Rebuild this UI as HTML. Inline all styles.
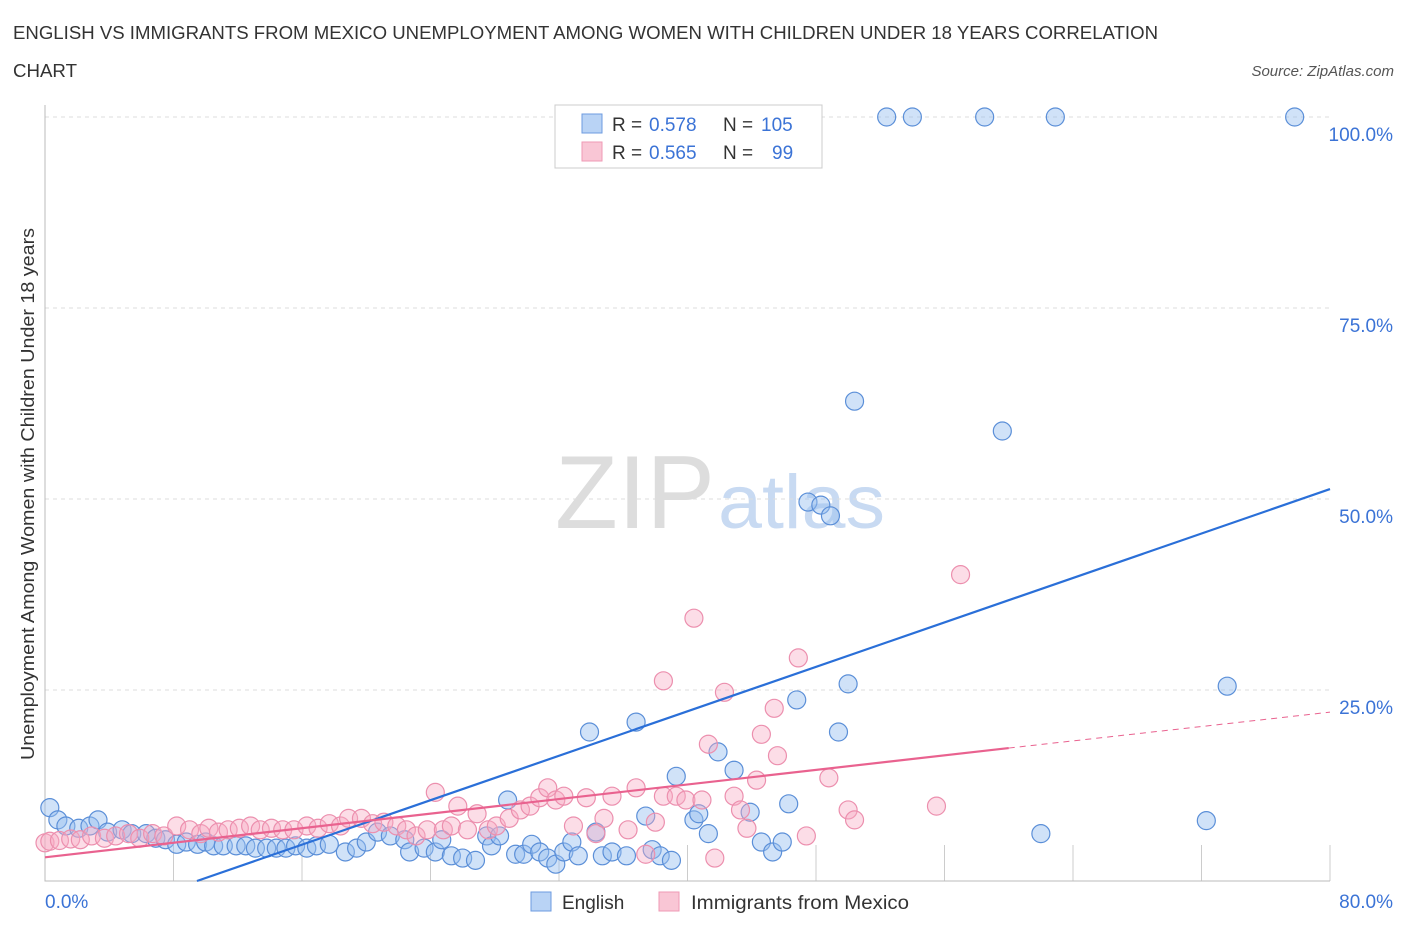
<!DOCTYPE html>
<html><head><meta charset="utf-8"><style>
body{margin:0;background:#fff;font-family:"Liberation Sans",sans-serif}
svg text{font-family:"Liberation Sans",sans-serif}
</style></head><body>
<svg width="1406" height="930">
<text x="13" y="39" font-size="18" fill="#333" textLength="1145" lengthAdjust="spacingAndGlyphs">ENGLISH VS IMMIGRANTS FROM MEXICO UNEMPLOYMENT AMONG WOMEN WITH CHILDREN UNDER 18 YEARS CORRELATION</text>
<text x="13" y="77" font-size="18" fill="#333" textLength="64" lengthAdjust="spacingAndGlyphs">CHART</text>
<text x="1394" y="76" font-size="15" fill="#555" font-style="italic" text-anchor="end">Source: ZipAtlas.com</text>
<text x="555" y="528" font-size="104" fill="#ddd" font-family="Liberation Serif" textLength="160" lengthAdjust="spacingAndGlyphs">ZIP</text>
<text x="718" y="528" font-size="76" fill="#c8daf2" textLength="167" lengthAdjust="spacingAndGlyphs">atlas</text>
<g id="grid"></g>
<g id="pts"></g>
<g id="lines"></g>
<text transform="translate(34,494) rotate(-90)" font-size="18" fill="#333" text-anchor="middle" textLength="532" lengthAdjust="spacingAndGlyphs">Unemployment Among Women with Children Under 18 years</text>
<text x="45" y="908" font-size="19" fill="#3b73d6">0.0%</text>
<text x="1393" y="908" font-size="19" fill="#3b73d6" text-anchor="end">80.0%</text>
<g>
<rect x="555" y="105" width="267" height="63" fill="#fff" stroke="#ccc"/>
<rect x="582" y="114" width="20" height="19" fill="#b9d3f5" stroke="#6d9be0"/>
<rect x="582" y="142" width="20" height="19" fill="#f9c6d5" stroke="#ef9ab5"/>
<text x="612" y="131" font-size="19" fill="#333">R =</text><text x="649" y="131" font-size="19" fill="#3b73d6">0.578</text>
<text x="723" y="131" font-size="19" fill="#333">N =</text><text x="761" y="131" font-size="19" fill="#3b73d6">105</text>
<text x="612" y="159" font-size="19" fill="#333">R =</text><text x="649" y="159" font-size="19" fill="#3b73d6">0.565</text>
<text x="723" y="159" font-size="19" fill="#333">N =</text><text x="772" y="159" font-size="19" fill="#3b73d6">99</text>
</g>
<g><rect x="531" y="892" width="20" height="19" fill="#b9d3f5" stroke="#6d9be0"/><text x="562" y="909" font-size="19" fill="#333">English</text></g>
<g><rect x="659" y="892" width="20" height="19" fill="#f9c6d5" stroke="#ef9ab5"/><text x="691" y="909" font-size="19" fill="#333" textLength="218" lengthAdjust="spacingAndGlyphs">Immigrants from Mexico</text></g>
</svg>
<script>
const yTicks=[100,75,50,25];
const yTickLabels=["100.0%","75.0%","50.0%","25.0%"];
const xTicks=[8,16,24,32,40,48,56,64,72,80];
const blueX=[0.3,0.8,1.3,2.1,2.8,3.3,3.9,4.8,5.4,6.3,6.9,7.5,8.2,8.8,9.5,10.0,10.5,11.1,11.9,12.5,13.1,13.8,14.4,15.0,15.6,16.3,16.9,17.7,18.7,19.4,20.0,20.7,21.5,22.4,22.7,23.6,24.3,24.7,25.3,26.0,26.8,27.5,27.8,28.3,28.8,29.3,29.8,30.3,30.8,31.3,31.8,32.3,32.8,33.2,33.9,34.3,34.7,35.3,36.2,36.8,37.4,37.8,38.3,39.0,39.3,40.4,40.7,41.3,41.9,42.9,43.9,44.6,45.3,45.9,46.3,46.8,47.5,48.3,48.9,49.4,50.0,50.4,52.4,54.0,58.5,59.6,62.0,62.9,72.3,73.6,77.8];
const blueY=[9.6,8.0,7.2,6.9,7.2,8.0,6.4,6.7,6.2,6.2,5.6,5.4,4.8,5.1,4.8,5.1,4.6,4.6,4.6,4.6,4.3,4.3,4.3,4.3,4.6,4.3,4.6,4.8,3.8,4.3,5.1,6.4,5.9,5.4,3.8,4.3,3.8,5.4,3.3,3.0,2.7,5.9,4.6,5.9,10.6,3.5,3.5,4.8,3.8,3.0,2.2,3.8,5.1,3.3,19.5,6.4,3.3,3.8,3.3,20.8,8.5,4.1,3.3,2.7,13.7,8.0,8.8,6.2,16.9,14.5,9.0,5.1,3.8,5.1,10.1,23.7,49.6,49.2,47.8,19.5,25.8,62.8,100,100,100,58.9,6.2,100,7.9,25.5,100];
const pinkX=[0,0.3,0.9,1.6,2.2,2.9,3.7,4.4,5.2,5.9,6.7,7.4,8.2,9.0,9.7,10.2,10.8,11.4,12.1,12.8,13.4,14.1,14.8,15.5,16.3,17.0,17.7,18.4,18.9,19.7,20.4,21.1,21.9,22.5,23.1,23.8,24.3,24.8,25.3,25.7,26.3,26.9,27.6,28.1,28.9,29.6,30.2,30.8,31.3,31.8,32.3,32.9,33.7,34.3,34.8,35.3,36.3,36.8,37.4,38.0,38.5,39.3,39.9,40.4,38.5,40.9,41.3,41.7,42.3,42.9,43.3,43.7,44.3,44.6,45.4,45.6,46.9,47.4,48.8,50.0,50.4,55.5,57.0];
const pinkY=[5.0,5.2,5.3,5.5,5.4,5.9,5.6,5.9,6.2,5.6,6.2,5.9,7.2,6.7,6.2,6.9,6.4,6.7,6.9,7.2,6.7,6.9,6.7,6.7,7.2,6.9,7.5,7.2,8.2,8.2,7.5,7.7,7.2,6.7,5.9,6.7,11.6,6.7,7.2,9.8,6.7,8.8,6.7,7.2,8.2,9.3,9.8,10.9,12.2,10.6,11.1,7.2,10.9,6.2,8.2,11.1,6.7,12.2,3.5,7.7,11.1,11.1,10.6,34.4,26.2,10.6,17.9,3.0,24.7,11.1,9.3,6.9,13.2,19.2,22.6,16.4,29.2,5.9,13.5,9.3,8.0,9.8,40.1];
const blueLine=[[9.46,0],[80,51.3]];
const pinkLine=[[0,3.1],[60,17.4]];
const pinkDash=[[60,17.4],[80,22.1]];
const X=v=>45+v*16.0625, Y=v=>881-v*7.64;
const NS="http://www.w3.org/2000/svg";
function mk(t,a,p){const e=document.createElementNS(NS,t);for(const k in a)e.setAttribute(k,a[k]);p.appendChild(e);return e;}
const grid=document.getElementById('grid');
yTicks.forEach((t,i)=>{
 const l=mk('line',{x1:45,x2:1330,y1:Y(t),y2:Y(t),stroke:'#ddd','stroke-dasharray':'4,4'},grid);
 
 
 const tx=mk('text',{x:1393,y:Y(t)+24,'font-size':19,fill:'#3b73d6','text-anchor':'end'},grid);
 tx.textContent=yTickLabels[i];
 
 
});
xTicks.forEach(t=>{
 const l=mk('line',{x1:X(t),x2:X(t),y1:845,y2:881,stroke:'#ccc'},grid);
 
 
});
const ax=mk('path',{d:'M45,105V881H1330',fill:'none',stroke:'#bbb'},grid);


const pts=document.getElementById('pts');
blueX.forEach((x,i)=>{
 const c=mk('circle',{cx:X(x),cy:Y(blueY[i]),r:9,fill:'rgba(150,190,240,0.45)',stroke:'#5b8fd8','stroke-width':1.2},pts);
 
 
});
pinkX.forEach((x,i)=>{
 const c=mk('circle',{cx:X(x),cy:Y(pinkY[i]),r:9,fill:'rgba(247,170,195,0.4)',stroke:'#ec8fae','stroke-width':1.2},pts);
 
 
});
const lg=document.getElementById('lines');
const bl=mk('line',{x1:X(blueLine[0][0]),y1:Y(blueLine[0][1]),x2:X(blueLine[1][0]),y2:Y(blueLine[1][1]),stroke:'#2a6fd8','stroke-width':2.2},lg);


const pl=mk('line',{x1:X(pinkLine[0][0]),y1:Y(pinkLine[0][1]),x2:X(pinkLine[1][0]),y2:Y(pinkLine[1][1]),stroke:'#e9628f','stroke-width':2.2},lg);


const pd=mk('line',{x1:X(pinkDash[0][0]),y1:Y(pinkDash[0][1]),x2:X(pinkDash[1][0]),y2:Y(pinkDash[1][1]),stroke:'#e9628f','stroke-width':1,'stroke-dasharray':'6,5'},lg);


</script>
</body></html>
